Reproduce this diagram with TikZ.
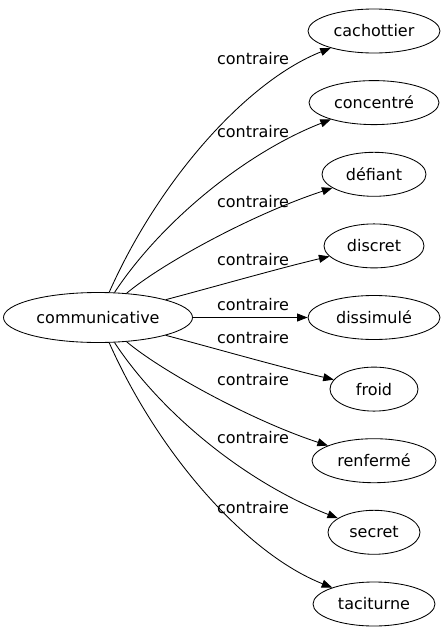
\documentclass[tikz,border=0pt]{standalone}
\usepackage{fontspec}
\setmainfont{DejaVu Sans}
\usetikzlibrary{shapes.geometric,arrows.meta}
\begin{document}
\begin{tikzpicture}[x=1pt,y=-1pt,
  every node/.style={font=\fontsize{16}{19}\selectfont},
  word/.style={draw, ellipse, line width=0.85pt, inner sep=0pt, minimum height=44pt},
  edge/.style={draw, line width=0.85pt, -{Triangle[length=10.5pt,width=8pt]}},
  lbl/.style={anchor=base, inner sep=0pt}]
\useasboundingbox (0,0) rectangle (444,635);
\node[word, minimum width=189pt, minimum height=50pt] (comm) at (98,317.5) {communicative};
\node[word, minimum width=132pt] (cach) at (374,31) {cachottier};
\node[word, minimum width=130pt] (conc) at (374,102.6) {concentré};
\node[word, minimum width=104pt] (defi) at (374,174.3) {défiant};
\node[word, minimum width=100pt] (disc) at (374,245.9) {discret};
\node[word, minimum width=132pt] (diss) at (374,317.5) {dissimulé};
\node[word, minimum width=88pt] (froi) at (374,389.1) {froid};
\node[word, minimum width=124pt] (renf) at (374,460.7) {renfermé};
\node[word, minimum width=92pt] (secr) at (374,532.3) {secret};
\node[word, minimum width=122pt] (taci) at (374,604) {taciturne};

\draw[edge] (comm) .. controls (159,180) and (247,81) .. (cach);
\draw[edge] (comm) .. controls (161,222) and (245,153) .. (conc);
\draw[edge] (comm) .. controls (160,265) and (250,215) .. (defi);
\draw[edge] (comm) .. controls (210,288) and (280,268) .. (disc);
\draw[edge] (comm) -- (diss);
\draw[edge] (comm) .. controls (210,347) and (280,367) .. (froi);
\draw[edge] (comm) .. controls (160,370) and (250,420) .. (renf);
\draw[edge] (comm) .. controls (161,413) and (245,482) .. (secr);
\draw[edge] (comm) .. controls (159,455) and (247,554) .. (taci);

\node[lbl] (l1) at (253,64) {contraire};
\node[lbl] (l2) at (253,137) {contraire};
\node[lbl] (l3) at (253,207) {contraire};
\node[lbl] (l4) at (253,265) {contraire};
\node[lbl] (l5) at (253,310) {contraire};
\node[lbl] (l6) at (253,343) {contraire};
\node[lbl] (l7) at (253,385) {contraire};
\node[lbl] (l8) at (253,443) {contraire};
\node[lbl] (l9) at (253,513) {contraire};
\end{tikzpicture}
\end{document}
